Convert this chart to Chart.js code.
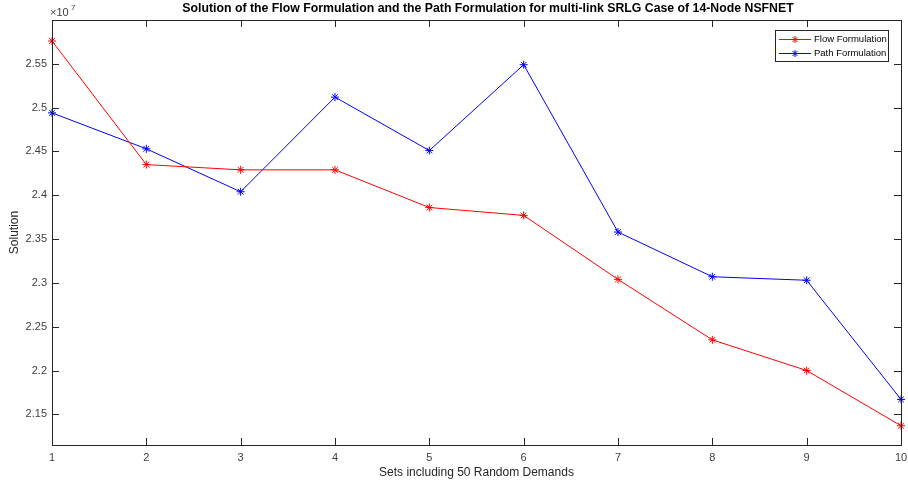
<!DOCTYPE html>
<html>
<head>
<meta charset="utf-8">
<script src="https://cdn.jsdelivr.net/npm/chart.js@4.4.1/dist/chart.umd.min.js"></script>
<style>
  html, body { margin: 0; padding: 0; background: #fff; }
  #wrap { width: 908px; height: 487px; position: relative; }
</style>
</head>
<body>
<div id="wrap"><canvas id="myCanvas"></canvas></div>
<script>
// values in units of 1e7
const setLabels = [1, 2, 3, 4, 5, 6, 7, 8, 9, 10];
const flowValues = [2.576, 2.435, 2.429, 2.429, 2.386, 2.377, 2.304, 2.235, 2.200, 2.137];
const pathValues = [2.494, 2.453, 2.404, 2.512, 2.451, 2.549, 2.358, 2.307, 2.303, 2.167];
const yTicks = [2.15, 2.2, 2.25, 2.3, 2.35, 2.4, 2.45, 2.5, 2.55];
const xTicks = [1, 2, 3, 4, 5, 6, 7, 8, 9, 10];

const axisColor = "#262626";
const font = "Arial, 'Liberation Sans', Helvetica, sans-serif";

const flowData = setLabels.map((x, i) => ({ x: x, y: flowValues[i] }));
const pathData = setLabels.map((x, i) => ({ x: x, y: pathValues[i] }));

// draws the matlab style box, inward ticks, labels and legend
const matlabAxes = {
  id: "matlabAxes",
  afterDraw(chart) {
    const ctx = chart.ctx;
    const a = chart.chartArea;
    const xs = chart.scales.x;
    const ys = chart.scales.y;
    ctx.save();
    ctx.strokeStyle = axisColor;
    ctx.lineWidth = 1;
    ctx.strokeRect(Math.round(a.left) + 0.5, Math.round(a.top) + 0.5,
      Math.round(a.right - a.left), Math.round(a.bottom - a.top));

    ctx.beginPath();
    xTicks.forEach((t) => {
      const px = Math.round(xs.getPixelForValue(t)) + 0.5;
      ctx.moveTo(px, a.bottom); ctx.lineTo(px, a.bottom - 7);
      ctx.moveTo(px, a.top); ctx.lineTo(px, a.top + 7);
    });
    yTicks.forEach((t) => {
      const py = Math.round(ys.getPixelForValue(t)) + 0.5;
      ctx.moveTo(a.left, py); ctx.lineTo(a.left + 7, py);
      ctx.moveTo(a.right, py); ctx.lineTo(a.right - 7, py);
    });
    ctx.stroke();

    ctx.fillStyle = "#404040";
    ctx.font = "11px " + font;
    ctx.textAlign = "center";
    ctx.textBaseline = "middle";
    xTicks.forEach((t) => {
      ctx.fillText(String(t), xs.getPixelForValue(t), a.bottom + 13);
    });
    ctx.textAlign = "right";
    yTicks.forEach((t) => {
      ctx.fillText(String(t), a.left - 5, ys.getPixelForValue(t));
    });

    // exponent
    ctx.textAlign = "left";
    ctx.font = "11px " + font;
    ctx.fillText("\u00d710", a.left - 2, a.top - 7);
    ctx.font = "8px " + font;
    ctx.fillText("7", a.left + 19, a.top - 12);

    // axis labels
    ctx.fillStyle = axisColor;
    ctx.font = "12px " + font;
    ctx.textAlign = "center";
    ctx.fillText("Sets including 50 Random Demands", (a.left + a.right) / 2, a.bottom + 28);
    ctx.save();
    ctx.translate(15, (a.top + a.bottom) / 2);
    ctx.rotate(-Math.PI / 2);
    ctx.fillText("Solution", 0, 0);
    ctx.restore();

    ctx.fillStyle = "#000";
    ctx.font = "bold 12.3px " + font;
    ctx.textAlign = "center";
    ctx.fillText("Solution of the Flow Formulation and the Path Formulation for multi-link SRLG Case of 14-Node NSFNET", 488, 9);

    // legend
    ctx.textAlign = "left";
    ctx.fillStyle = "#fff";
    ctx.fillRect(775.5, 30.5, 113, 31);
    ctx.strokeStyle = axisColor;
    ctx.strokeRect(775.5, 30.5, 113, 31);
    const rows = [
      { name: "Flow Formulation", color: "#ff0000", y: 39.5 },
      { name: "Path Formulation", color: "#0000ff", y: 53.5 },
    ];
    ctx.font = "9.5px " + font;
    rows.forEach((r) => {
      ctx.strokeStyle = r.color;
      ctx.beginPath();
      ctx.moveTo(779, r.y); ctx.lineTo(811, r.y);
      ctx.stroke();
      drawStar(ctx, 795, r.y, 3.5, r.color);
      ctx.fillStyle = "#000";
      ctx.fillText(r.name, 814, r.y);
    });
    ctx.restore();
  },
};

function drawStar(ctx, x, y, r, color) {
  ctx.save();
  ctx.strokeStyle = color;
  ctx.beginPath();
  ctx.moveTo(x - r, y); ctx.lineTo(x + r, y);
  ctx.moveTo(x, y - r); ctx.lineTo(x, y + r);
  const d = r * 0.707;
  ctx.moveTo(x - d, y - d); ctx.lineTo(x + d, y + d);
  ctx.moveTo(x - d, y + d); ctx.lineTo(x + d, y - d);
  ctx.stroke();
  ctx.restore();
}

const data = {
  datasets: [
    {
      label: "Flow Formulation",
      data: flowData,
      borderColor: "#ff0000",
      backgroundColor: "#ff0000",
      borderWidth: 1,
      pointStyle: "star",
      pointRadius: 4,
      pointBorderWidth: 1,
      pointBorderColor: "#ff0000",
      tension: 0,
      clip: false,
    },
    {
      label: "Path Formulation",
      data: pathData,
      borderColor: "#0000ff",
      backgroundColor: "#0000ff",
      borderWidth: 1,
      pointStyle: "star",
      pointRadius: 4,
      pointBorderWidth: 1,
      pointBorderColor: "#0000ff",
      tension: 0,
      clip: false,
    },
  ],
};

const config = {
  type: "line",
  data: data,
  options: {
    responsive: true,
    maintainAspectRatio: false,
    animation: false,
    layout: { padding: { left: 52, right: 7, top: 20, bottom: 42 } },
    plugins: { legend: { display: false }, tooltip: { enabled: false } },
    scales: {
      x: { type: "linear", min: 1, max: 10, display: false },
      y: { type: "linear", min: 2.115, max: 2.6, display: false },
    },
  },
  plugins: [matlabAxes],
};

new Chart(document.querySelector("#myCanvas"), config);
</script>
</body>
</html>
